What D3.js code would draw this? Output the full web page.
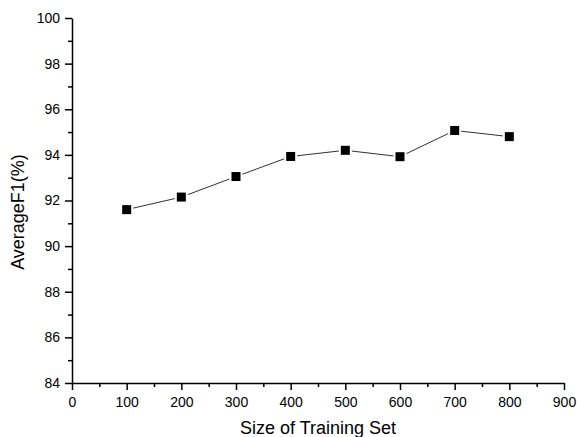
<!DOCTYPE html>
<html><head><meta charset="utf-8">
<script src="https://cdn.jsdelivr.net/npm/d3@7"></script>
<style>body{margin:0;background:#fff}svg{display:block}text{font-family:"Liberation Sans",Arial,sans-serif;fill:#000}</style>
</head><body>
<svg id="c" width="577" height="437"></svg>
<script>
const sizes = [100, 200, 300, 400, 500, 600, 700, 800];
const f1 = [91.6, 92.15, 93.05, 93.93, 94.2, 93.92, 95.07, 94.8];
const xTicks = [0, 100, 200, 300, 400, 500, 600, 700, 800, 900];
const yTicks = [84, 86, 88, 90, 92, 94, 96, 98, 100];
const xMinor = [50, 150, 250, 350, 450, 550, 650, 750, 850];
const yMinor = [85, 87, 89, 91, 93, 95, 97, 99];
const xTitle = "Size of Training Set";
const yTitle = "AverageF1(%)";

const svg = d3.select("#c");
const L = 72, R = 564, T = 18, B = 383;
const x = d3.scaleLinear().domain([0, 900]).range([L, R]);
const y = d3.scaleLinear().domain([84, 100]).range([B, T]);

const gx = svg.append("g").attr("transform", `translate(0,${B})`);
gx.call(d3.axisBottom(x).tickValues(xMinor).tickSize(4).tickFormat(""));
const gy = svg.append("g").attr("transform", `translate(${L},0)`);
gy.call(d3.axisLeft(y).tickValues(yMinor).tickSize(4).tickFormat(""));
const ax = svg.append("g").attr("transform", `translate(0,${B})`)
  .call(d3.axisBottom(x).tickValues(xTicks).tickSize(7).tickSizeOuter(0).tickPadding(7).tickFormat(d3.format("d")));
const ay = svg.append("g").attr("transform", `translate(${L},0)`)
  .call(d3.axisLeft(y).tickValues(yTicks).tickSize(7).tickSizeOuter(0).tickPadding(5).tickFormat(d3.format("d")));
svg.selectAll(".domain").attr("stroke", "#000").attr("stroke-width", 1.5);
svg.selectAll(".tick line").attr("stroke", "#000").attr("stroke-width", 1.5);
svg.selectAll(".tick text").style("font-size", "14px").style("font-family", '"Liberation Sans",Arial,sans-serif');
gx.select(".domain").remove(); gy.select(".domain").remove();

const data = sizes.map((s, i) => ({s, v: f1[i]}));
svg.append("path").datum(data)
  .attr("fill", "none").attr("stroke", "#333").attr("stroke-width", 1)
  .attr("d", d3.line().x(d => x(d.s)).y(d => y(d.v)));
svg.selectAll("rect.gap").data(data).enter().append("rect")
  .attr("x", d => x(d.s) - 6.5).attr("y", d => y(d.v) - 6.5)
  .attr("width", 13).attr("height", 13).attr("fill", "#fff");
svg.selectAll("rect.m").data(data).enter().append("rect")
  .attr("x", d => x(d.s) - 4.5).attr("y", d => y(d.v) - 4.5)
  .attr("width", 9).attr("height", 9).attr("fill", "#000");

svg.append("text").attr("x", (L + R) / 2 - 0).attr("y", 434)
  .attr("text-anchor", "middle").style("font-size", "18px").text(xTitle);
svg.append("text").attr("transform", `translate(24,212) rotate(-90)`)
  .attr("text-anchor", "middle").style("font-size", "18px").text(yTitle);
</script>
</body></html>
